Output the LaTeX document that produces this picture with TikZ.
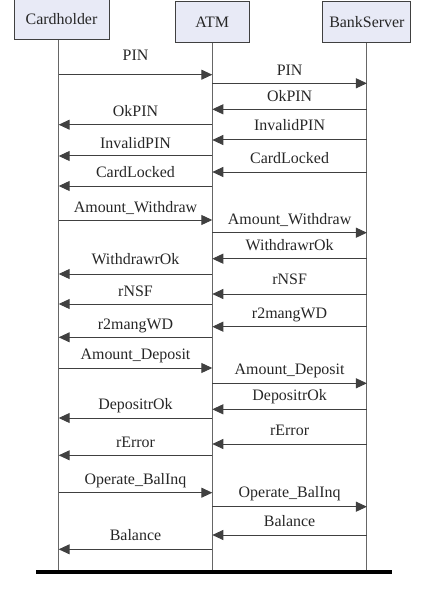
\documentclass[tikz,border=0pt]{standalone}
\usepackage{fontspec}
\setmainfont{Liberation Serif}
\usepackage{xcolor}
\usetikzlibrary{arrows.meta}
\definecolor{boxfill}{HTML}{E8EAF6}
\definecolor{linegray}{HTML}{404040}

\begin{document}
\begin{tikzpicture}[
  x=1bp, y=-1bp,
  font=\fontsize{16}{19}\selectfont,
  actor/.style={draw=linegray, fill=boxfill, line width=0.9bp, minimum height=41bp, inner sep=0pt, text=black!85},
  life/.style={draw=gray!80!black, line width=1bp},
  arrow/.style={draw=linegray, line width=1bp, -{Triangle[length=11bp,width=10bp]}},
  msg/.style={text height=0.66em, text depth=0pt, inner sep=0pt, text=black!85}
]
\useasboundingbox (0,0) rectangle (423,595);

% Nodes
\node[actor, minimum width=95bp, minimum height=40bp] (ch) at (61.5,19.5) {Cardholder};
\node[actor, minimum width=74bp] (atm) at (212.3,21.8) {ATM};
\node[actor, minimum width=88bp] (bs) at (366.9,22.2) {BankServer};
\coordinate (ch-top) at ([xshift=-2.8bp]ch.south);
\coordinate (ch-end) at (ch-top |- 0,572);
\coordinate (atm-end) at (atm.south |- 0,572);
\coordinate (bs-end) at (bs.south |- 0,572);
\coordinate (floor-l) at (36,572.3);
\coordinate (floor-r) at (391.7,572.3);

% Lifelines
\draw[life] (ch-top) -- (ch-end);
\draw[life] (atm.south) -- (atm-end);
\draw[life] (bs.south) -- (bs-end);
\draw[line width=4bp] (floor-l) -- (floor-r);

% Pointers
\foreach \y/\ly/\a/\b/\txt in {
  74.7/57/ch-top/atm/PIN,
  83.3/72/atm/bs/PIN,
  109.3/98/bs/atm/OkPIN,
  124.7/113/atm/ch-top/OkPIN,
  140/127/bs/atm/InvalidPIN,
  156/145.5/atm/ch-top/InvalidPIN,
  172/160/bs/atm/CardLocked,
  186/174/atm/ch-top/CardLocked,
  220/209/ch-top/atm/Amount\_Withdraw,
  232.7/221/atm/bs/Amount\_Withdraw,
  258.7/247.7/bs/atm/WithdrawrOk,
  274/261.7/atm/ch-top/WithdrawrOk,
  294/281/bs/atm/rNSF,
  304/293/atm/ch-top/rNSF,
  326.7/315/bs/atm/r2mangWD,
  337.3/326/atm/ch-top/r2mangWD,
  368/356/ch-top/atm/Amount\_Deposit,
  383.3/371/atm/bs/Amount\_Deposit,
  409.3/397.3/bs/atm/DepositrOk,
  418/406.7/atm/ch-top/DepositrOk,
  444/432/bs/atm/rError,
  455.3/444/atm/ch-top/rError,
  492.7/481.7/ch-top/atm/Operate\_BalInq,
  506.7/494/atm/bs/Operate\_BalInq,
  535/523.3/bs/atm/Balance,
  549.3/537.3/atm/ch-top/Balance}{
  \draw[arrow] (\a |- 0,\y) -- (\b |- 0,\y);
  \path (\a |- 0,\ly) -- node[msg] {\txt} (\b |- 0,\ly);
}
\end{tikzpicture}
\end{document}
